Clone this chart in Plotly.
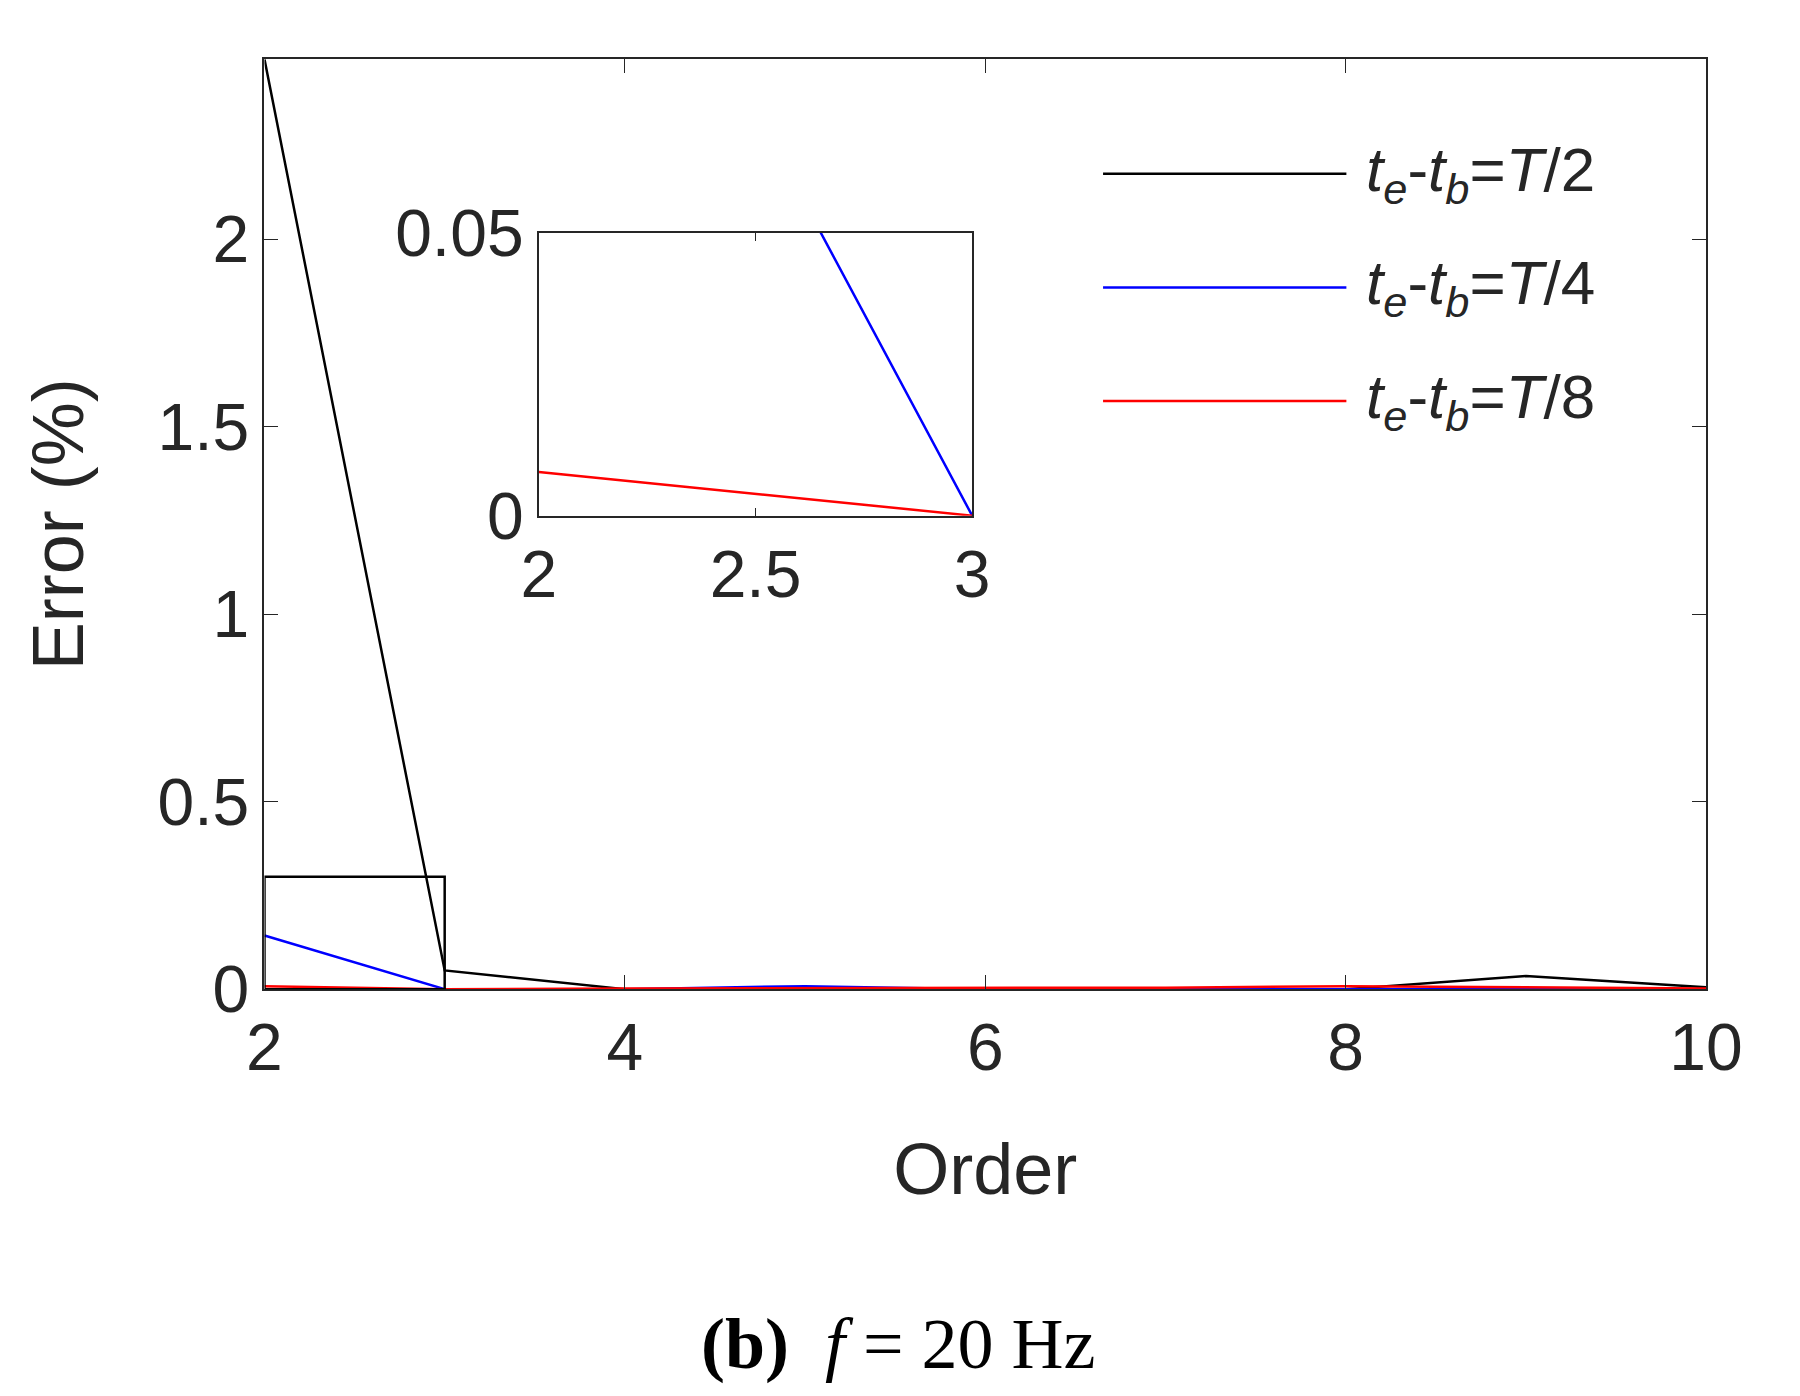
import plotly.graph_objects as go

# Data
orders = [2, 3, 4, 5, 6, 7, 8, 9, 10]
err_t2 = [2.48, 0.05, 0.0, 0.0, 0.0, 0.0, 0.0, 0.035, 0.005]
err_t4 = [0.143, 0.0, 0.0, 0.008, 0.0, 0.0, 0.0, 0.002, 0.0]
err_t8 = [0.0077, 0.0, 0.002, 0.002, 0.002, 0.004, 0.008, 0.005, 0.002]
labels = ["<i>t</i><sub><i>e</i></sub>-<i>t</i><sub><i>b</i></sub>=<i>T</i>/2",
          "<i>t</i><sub><i>e</i></sub>-<i>t</i><sub><i>b</i></sub>=<i>T</i>/4",
          "<i>t</i><sub><i>e</i></sub>-<i>t</i><sub><i>b</i></sub>=<i>T</i>/8"]
colors = ["black", "blue", "red"]
series = [err_t2, err_t4, err_t8]

W, H = 1800, 1396
def px(x): return x / W
def py(y): return 1 - y / H

fig = go.Figure()
for s, c in zip(series, colors):
    fig.add_trace(go.Scatter(x=orders, y=s, mode="lines", line=dict(color=c, width=2.5),
                             showlegend=False, xaxis="x", yaxis="y"))
# inset uses same data, zoomed
for s, c in zip([err_t4, err_t8], ["blue", "red"]):
    fig.add_trace(go.Scatter(x=orders, y=s, mode="lines", line=dict(color=c, width=2.5),
                             showlegend=False, xaxis="x2", yaxis="y2"))

font = "Arial, Liberation Sans, sans-serif"
axcommon = dict(showline=True, linecolor="#262626", linewidth=2, mirror="ticks",
                ticks="inside", ticklen=14, tickcolor="#262626", showgrid=False,
                zeroline=False, tickfont=dict(family=font, size=66, color="#262626"))
fig.update_layout(
    width=W, height=H, margin=dict(l=0, r=0, t=0, b=0),
    plot_bgcolor="white", paper_bgcolor="white",
    xaxis=dict(domain=[px(246), px(1733)], range=[2, 10], tickvals=[2, 4, 6, 8, 10],
               title=dict(text="Order", font=dict(family=font, size=72, color="#262626"),
                          standoff=60), **axcommon),
    yaxis=dict(domain=[py(997), py(15)], range=[0, 2.48], tickvals=[0, 0.5, 1, 1.5, 2],
               title=dict(text="Error (%)", font=dict(family=font, size=72, color="#262626"),
                          standoff=50), **axcommon),
    xaxis2=dict(domain=[px(529), px(976)], range=[2, 3], tickvals=[2, 2.5, 3],
                anchor="y2", **axcommon),
    yaxis2=dict(domain=[py(497), py(198)], range=[0, 0.05], tickvals=[0, 0.05],
                anchor="x2", **axcommon),
)
fig.update_xaxes(ticklen=8, selector=dict(anchor="y2"))
fig.update_yaxes(ticklen=8, selector=dict(anchor="x2"))

# zoom rectangle
fig.add_shape(type="rect", xref="x", yref="y", x0=2, x1=3, y0=0, y1=0.3,
              line=dict(color="black", width=2.5))

# legend drawn manually
for i, (lab, c) in enumerate(zip(labels, colors)):
    yy = py([136, 256, 376][i])
    fig.add_shape(type="line", xref="paper", yref="paper", x0=px(1111), x1=px(1362),
                  y0=yy, y1=yy, line=dict(color=c, width=2.5))
    fig.add_annotation(xref="paper", yref="paper", x=px(1380), y=yy, text=lab,
                       showarrow=False, xanchor="left", yanchor="middle",
                       font=dict(family=font, size=62, color="#262626"))

fig.add_annotation(xref="paper", yref="paper", x=0.5, y=py(1372), showarrow=False,
                   text="<b>(b)</b>  <i>f</i> = 20 Hz", yanchor="middle",
                   font=dict(family="Liberation Serif, DejaVu Serif, serif", size=72, color="black"))

fig.write_html("out.html")
